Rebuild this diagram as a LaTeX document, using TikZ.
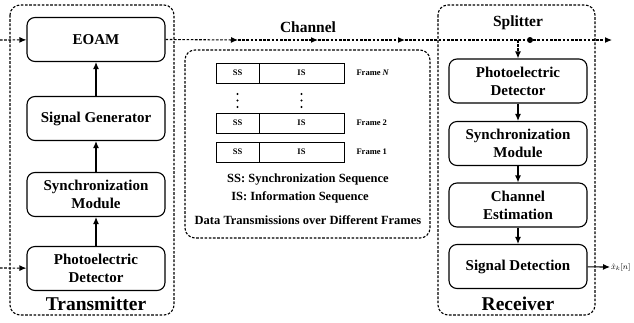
\documentclass[tikz,border=0pt]{standalone}
\usepackage{fontspec}
\setmainfont{Liberation Serif}
\usetikzlibrary{arrows.meta}
\begin{document}
\begin{tikzpicture}[x=1pt,y=-1pt]
\tikzstyle{block}=[draw, rounded corners=8pt, line width=1.1pt, minimum width=138pt, minimum height=44pt, align=center, font=\fontsize{15}{18}\selectfont\bfseries]
\tikzstyle{group}=[draw, rounded corners=10pt, line width=1.1pt, dash pattern=on 2.6pt off 1.6pt]
\tikzstyle{link}=[line width=1.1pt, -{Latex[length=7pt,width=6pt]}]
\tikzstyle{dlink}=[line width=1.1pt, -{Latex[length=7pt,width=6pt]}, dash pattern=on 2.6pt off 1.6pt]
\tikzstyle{cell}=[draw, line width=1pt, minimum height=20pt, inner sep=0pt, font=\fontsize{8.5}{10}\selectfont\bfseries]
\tikzstyle{legend}=[font=\fontsize{12.5}{15}\selectfont\bfseries]
\tikzstyle{dot}=[circle, fill, inner sep=0pt, minimum size=2.4pt]
\useasboundingbox (0,0) rectangle (634,322);

% groups
\draw[group] (10,5) rectangle (174,315);
\draw[group] (185,50) rectangle (430,238);
\draw[group] (438,5) rectangle (595,315);

% transmitter
\draw (96,39.5) node[block] (eoam) {EOAM};
\draw (96,118.5) node[block] (sg) {Signal Generator};
\draw (96,194.5) node[block] (tsync) {Synchronization\\Module};
\draw (96,268.5) node[block] (tpd) {Photoelectric\\Detector};
\draw (96,304) node[font=\fontsize{19.5}{22}\selectfont\bfseries] (tx) {Transmitter};

\coordinate (in0) at (0,40);
\coordinate (in1) at (0,268);
\draw[dlink] (in0) -- (eoam);
\draw[dlink] (in1) -- (tpd);
\draw[link] (tpd) -- (tsync);
\draw[link] (tsync) -- (sg);
\draw[link] (sg) -- (eoam);

% channel
\draw (308,27) node[font=\fontsize{15.5}{18}\selectfont\bfseries] (ch) {Channel};
\coordinate (c1) at (238,40);
\coordinate (c2) at (318,40);
\coordinate (c3) at (405,40);
\coordinate (br) at (518,40);
\coordinate (out) at (612,40);
\draw (530,40) node[circle, fill, inner sep=0pt, minimum size=6pt] (split) {};
\draw[dlink] (eoam.east) -- (c1);
\draw[dlink] (c1) -- (c2);
\draw[dlink] (c2) -- (c3);
\draw[line width=1.1pt, dash pattern=on 2.6pt off 1.6pt] (c3) -- (split);
\draw[dlink] (split) -- (out);

% frames
\draw (237.5,73) node[cell, minimum width=43pt] (ssN) {SS};
\draw (301.5,73) node[cell, minimum width=85pt] (isN) {IS};
\draw (237.5,123) node[cell, minimum width=43pt] (ss2) {SS};
\draw (301.5,123) node[cell, minimum width=85pt] (is2) {IS};
\draw (237.5,152) node[cell, minimum width=43pt] (ss1) {SS};
\draw (301.5,152) node[cell, minimum width=85pt] (is1) {IS};
\draw (237.5,94) node[dot] (d00) {};
\draw (237.5,100.5) node[dot] (d01) {};
\draw (237.5,107) node[dot] (d02) {};
\draw (301.5,94) node[dot] (d10) {};
\draw (301.5,100.5) node[dot] (d11) {};
\draw (301.5,107) node[dot] (d12) {};
\draw (353,73) node[anchor=west, font=\fontsize{8.5}{10}\selectfont\bfseries] (fN) {Frame \textit{N}};
\draw (353,123) node[anchor=west, font=\fontsize{8.5}{10}\selectfont\bfseries] (f2) {Frame 2};
\draw (353,152) node[anchor=west, font=\fontsize{8.5}{10}\selectfont\bfseries] (f1) {Frame 1};
\draw (308,180) node[legend] (l0) {SS: Synchronization Sequence};
\draw (300,197) node[legend] (l1) {IS: Information Sequence};
\draw (308,220) node[legend] (l2) {Data Transmissions over Different Frames};

% receiver
\draw (518,23) node[font=\fontsize{15.5}{18}\selectfont\bfseries] (sp) {Splitter};
\draw (518,81) node[block] (rpd) {Photoelectric\\Detector};
\draw (518,143.5) node[block] (rsync) {Synchronization\\Module};
\draw (518,205) node[block] (ce) {Channel\\Estimation};
\draw (518,266.5) node[block] (sd) {Signal Detection};
\draw (518,304) node[font=\fontsize{19.5}{22}\selectfont\bfseries] (rx) {Receiver};

\coordinate (xo) at (610,267);
\draw[dlink] (br) -- (rpd);
\draw[link] (rpd) -- (rsync);
\draw[link] (rsync) -- (ce);
\draw[link] (ce) -- (sd);
\draw[link] (sd) -- (xo);
\draw (xo) node[anchor=west, inner sep=1pt, font=\fontsize{8}{10}\selectfont] (xhat) {$\hat{x}_k[n]$};
\end{tikzpicture}
\end{document}
